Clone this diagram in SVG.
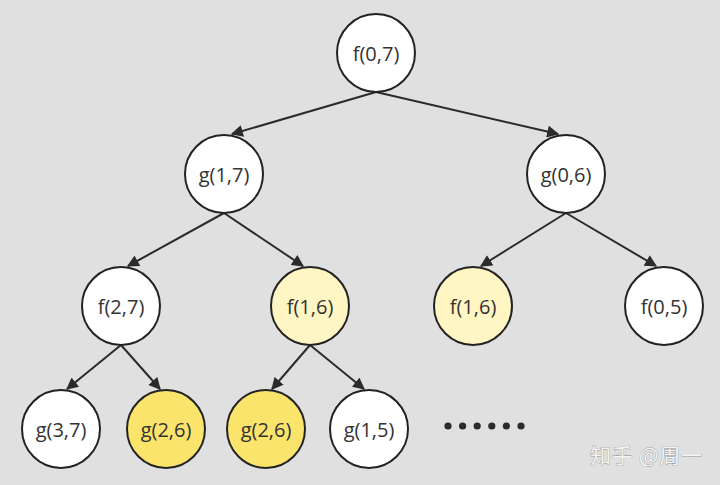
<svg xmlns="http://www.w3.org/2000/svg" width="720" height="485" viewBox="0 0 720 485">
  <defs>
    <marker id="arrow" viewBox="0 0 10 10" refX="9" refY="5" markerWidth="6.2" markerHeight="6" markerUnits="strokeWidth" orient="auto">
      <path d="M0,0 L10,5 L0,10 z" fill="#2b2b2b"/>
    </marker>
    <style>
      .node circle { stroke: #222; stroke-width: 2; }
      .plain circle { fill: #ffffff; }
      .pale circle { fill: #fff6c4; }
      .bright circle { fill: #fae46c; }
      .node text { font-family: "Open Sans", "Noto Sans", "DejaVu Sans", sans-serif; font-size: 20px; fill: #333; text-anchor: middle; dominant-baseline: central; }
      .edges line { stroke: #2b2b2b; stroke-width: 2; marker-end: url(#arrow); }
      .dots circle { fill: #2b2b2b; }
      .mark { font-family: "Noto Sans CJK SC", "Noto Sans", sans-serif; font-size: 21px; fill: #f4f4f4; stroke: #9a9a9a; stroke-width: 0.8; paint-order: stroke; }
    </style>
  </defs>

  <rect width="720" height="485" fill="#e0e0e0"/>

  <g class="edges">
    <line x1="376" y1="92" x2="232" y2="134"/>
    <line x1="376" y1="92" x2="558" y2="134"/>
    <line x1="224" y1="213" x2="128" y2="266"/>
    <line x1="224" y1="213" x2="303" y2="266"/>
    <line x1="566" y1="213" x2="481" y2="266"/>
    <line x1="566" y1="213" x2="656" y2="266"/>
    <line x1="121" y1="345" x2="67" y2="389"/>
    <line x1="121" y1="345" x2="160" y2="389"/>
    <line x1="310" y1="345" x2="272" y2="389"/>
    <line x1="310" y1="345" x2="364" y2="389"/>
  </g>

  <g id="f07" class="node plain"><circle cx="376" cy="53" r="39"/><text x="376" y="53">f(0,7)</text></g>
  <g id="g17" class="node plain"><circle cx="224" cy="174" r="39"/><text x="224" y="174">g(1,7)</text></g>
  <g id="g06" class="node plain"><circle cx="566" cy="174" r="39"/><text x="566" y="174">g(0,6)</text></g>
  <g id="f27" class="node plain"><circle cx="121" cy="306" r="39"/><text x="121" y="306">f(2,7)</text></g>
  <g id="f16a" class="node pale"><circle cx="310" cy="306" r="39"/><text x="310" y="306">f(1,6)</text></g>
  <g id="f16b" class="node pale"><circle cx="473" cy="306" r="39"/><text x="473" y="306">f(1,6)</text></g>
  <g id="f05" class="node plain"><circle cx="664" cy="306" r="39"/><text x="664" y="306">f(0,5)</text></g>
  <g id="g37" class="node plain"><circle cx="61" cy="429" r="39"/><text x="61" y="429">g(3,7)</text></g>
  <g id="g26a" class="node bright"><circle cx="166" cy="429" r="39"/><text x="166" y="429">g(2,6)</text></g>
  <g id="g26b" class="node bright"><circle cx="266" cy="429" r="39"/><text x="266" y="429">g(2,6)</text></g>
  <g id="g15" class="node plain"><circle cx="369" cy="429" r="39"/><text x="369" y="429">g(1,5)</text></g>

  <g class="dots">
    <circle cx="448" cy="426" r="3.6"/>
    <circle cx="462.6" cy="426" r="3.6"/>
    <circle cx="477.2" cy="426" r="3.6"/>
    <circle cx="491.8" cy="426" r="3.6"/>
    <circle cx="506.4" cy="426" r="3.6"/>
    <circle cx="521" cy="426" r="3.6"/>
  </g>

  <text class="mark" x="590" y="463" textLength="112">知乎 @周一</text>
</svg>
